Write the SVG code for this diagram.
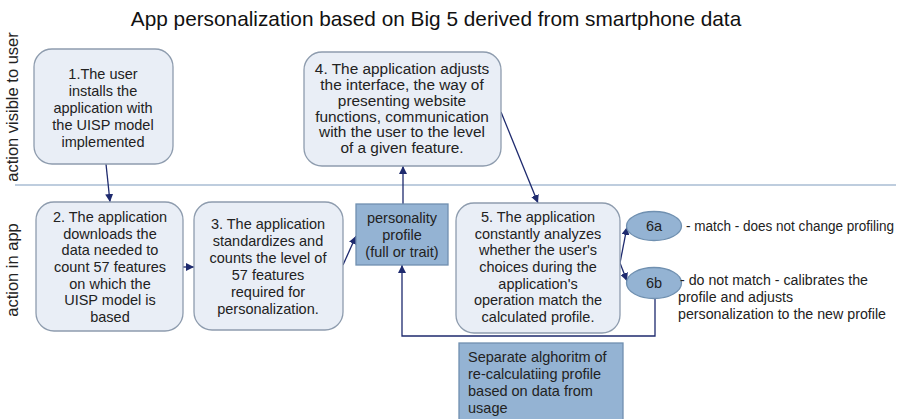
<svg xmlns="http://www.w3.org/2000/svg" width="903" height="419" viewBox="0 0 903 419">
<defs>
<marker id="ah" viewBox="0 0 8 8" refX="8" refY="4" markerWidth="8" markerHeight="8" markerUnits="userSpaceOnUse" orient="auto">
<path d="M0,0 L8,4 L0,8 z" fill="#1e2a6e"/>
</marker>
</defs>
<style>
text{font-family:"Liberation Sans",Arial,sans-serif;fill:#222}
.t{font-size:14.5px;text-anchor:middle}
.t4{font-size:15.4px;text-anchor:middle}
.l{font-size:14.5px}
.r{font-size:13.8px}
.box{fill:#e9eef6;stroke:#8e9cae;stroke-width:1.3}
.dark{fill:#94b3d3;stroke:#7090b0;stroke-width:1.3}
.c{stroke:#1e2a6e;stroke-width:1.3;fill:none}
.side{font-size:16.5px;text-anchor:middle}
</style>
<rect width="903" height="419" fill="#ffffff"/>
<text x="436" y="26" style="font-size:20.8px;text-anchor:middle;fill:#111">App personalization based on Big 5 derived from smartphone data</text>
<text class="side" transform="translate(18,107) rotate(-90)">action visible to user</text>
<text class="side" transform="translate(18,270) rotate(-90)">action in app</text>
<line x1="15" y1="185" x2="896" y2="185" stroke="#a9bcd3" stroke-width="1.5"/>

<g id="connectors">
<line class="c" x1="106" y1="164" x2="110" y2="202" marker-end="url(#ah)"/>
<line class="c" x1="183" y1="267" x2="194" y2="267" marker-end="url(#ah)"/>
<line class="c" x1="343" y1="265" x2="356" y2="236" marker-end="url(#ah)"/>
<line class="c" x1="403" y1="204" x2="403" y2="166" marker-end="url(#ah)"/>
<line class="c" x1="501" y1="112" x2="538" y2="203" marker-end="url(#ah)"/>
<line class="c" x1="620" y1="263" x2="627" y2="227" marker-end="url(#ah)"/>
<line class="c" x1="620" y1="263" x2="627" y2="281" marker-end="url(#ah)"/>
<polyline class="c" points="655,298 655,336 402,336 402,265" marker-end="url(#ah)"/>
</g>

<g id="n1">
<rect class="box" x="34" y="49" width="139" height="115" rx="18"/>
<text class="t" x="103" y="79">1.The user</text>
<text class="t" x="103" y="96">installs the</text>
<text class="t" x="103" y="113">application with</text>
<text class="t" x="103" y="130">the UISP model</text>
<text class="t" x="103" y="147">implemented</text>
</g>

<g id="n4">
<rect class="box" x="304" y="52" width="197" height="114" rx="18"/>
<text class="t4" x="402" y="73.5">4. The application adjusts</text>
<text class="t4" x="402" y="89.5">the interface, the way of</text>
<text class="t4" x="402" y="105.5">presenting website</text>
<text class="t4" x="402" y="121.5">functions, communication</text>
<text class="t4" x="402" y="137">with the user to the level</text>
<text class="t4" x="402" y="152.5">of a given feature.</text>
</g>

<g id="n2">
<rect class="box" x="36" y="202" width="147" height="129" rx="18"/>
<text class="t" x="110" y="222">2. The application</text>
<text class="t" x="110" y="238.5">downloads the</text>
<text class="t" x="110" y="255">data needed to</text>
<text class="t" x="110" y="272">count 57 features</text>
<text class="t" x="110" y="288.5">on which the</text>
<text class="t" x="110" y="305">UISP model is</text>
<text class="t" x="110" y="322">based</text>
</g>

<g id="n3">
<rect class="box" x="194" y="202" width="149" height="128" rx="18"/>
<text class="t" x="268" y="228.5">3. The application</text>
<text class="t" x="268" y="245.5">standardizes and</text>
<text class="t" x="268" y="262.5">counts the level of</text>
<text class="t" x="268" y="279.5">57 features</text>
<text class="t" x="268" y="296.5">required for</text>
<text class="t" x="268" y="313.5">personalization.</text>
</g>

<g id="profile">
<rect class="dark" x="356" y="204" width="92" height="61"/>
<text class="t" x="402" y="223">personality</text>
<text class="t" x="402" y="240">profile</text>
<text class="t" x="402" y="256.5">(full  or trait)</text>
</g>

<g id="n5">
<rect class="box" x="456" y="203" width="164" height="130" rx="18"/>
<text class="t" x="538" y="222">5. The application</text>
<text class="t" x="538" y="238.5">constantly analyzes</text>
<text class="t" x="538" y="255">whether the user's</text>
<text class="t" x="538" y="272">choices during the</text>
<text class="t" x="538" y="288.5">application's</text>
<text class="t" x="538" y="305">operation match the</text>
<text class="t" x="538" y="322">calculated profile.</text>
</g>

<g id="n6a">
<ellipse class="dark" cx="654" cy="226" rx="27.5" ry="14.5"/>
<text class="t" x="654" y="231">6a</text>
</g>
<g id="n6b">
<ellipse class="dark" cx="654" cy="283" rx="27.5" ry="15.5"/>
<text class="t" x="654" y="288">6b</text>
</g>

<g id="label6a">
<text class="r" x="686" y="231" textLength="208" lengthAdjust="spacingAndGlyphs">- match - does not change profiling</text>
</g>
<g id="label6b">
<text class="r" x="680" y="285" textLength="188" lengthAdjust="spacingAndGlyphs">- do not match - calibrates the</text>
<text class="r" x="678" y="302" textLength="115" lengthAdjust="spacingAndGlyphs">profile and adjusts</text>
<text class="r" x="678" y="319" textLength="208" lengthAdjust="spacingAndGlyphs">personalization to the new profile</text>
</g>

<g id="algo">
<rect class="dark" x="459" y="343" width="164" height="82"/>
<text class="l" x="468" y="362">Separate alghoritm of</text>
<text class="l" x="468" y="379">re-calculatiing profile</text>
<text class="l" x="468" y="396">based on data from</text>
<text class="l" x="468" y="413">usage</text>
</g>
</svg>
